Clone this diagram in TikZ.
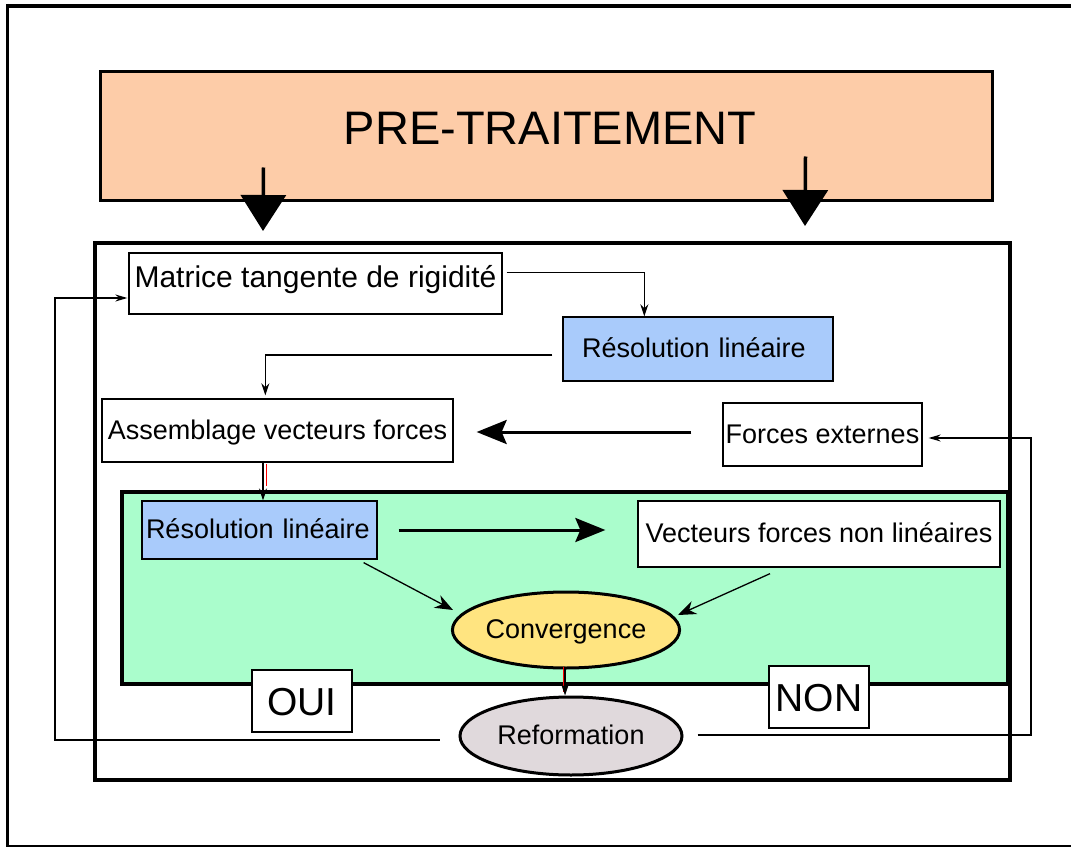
\documentclass[tikz,border=0pt]{standalone}
\usepackage{fontspec}
\setmainfont{Liberation Sans}
\usetikzlibrary{arrows.meta,calc,shapes.geometric}
\definecolor{peach}{RGB}{253,204,168}
\definecolor{lblue}{RGB}{169,203,251}
\definecolor{mint}{RGB}{170,253,204}
\definecolor{cyellow}{RGB}{255,228,128}
\definecolor{rgrey}{RGB}{224,217,220}
\begin{document}
\begin{tikzpicture}[x=1pt,y=-1pt,
  box/.style={draw, line width=1.3pt, inner sep=0pt, fill=white,
    font=\fontsize{27}{30}\selectfont, text height=20pt, text depth=3pt},
  frame/.style={draw, inner sep=0pt},
  ell/.style={ellipse, draw, line width=3pt, inner sep=0pt,
    font=\fontsize{27}{30}\selectfont, text height=20pt, text depth=3pt},
  bigword/.style={box, font=\fontsize{39}{42}\selectfont, text height=28pt, text depth=0pt},
  thinarrow/.style={line width=1.4pt, -{Stealth[length=12pt,width=8pt]}},
  diagarrow/.style={line width=1.3pt, -{Stealth[length=18pt,width=14pt]}},
  bigarrow/.style={line width=3pt, -{Stealth[length=30pt,width=24pt,inset=5pt]}},
  toparrow/.style={line width=3.5pt, -{Triangle[length=36pt,width=45pt]}},
  loopline/.style={line width=1.3pt},
  redline/.style={red, line width=1pt}
]
\useasboundingbox (0,0) rectangle (1071,848);
% outer frame
\draw[line width=4pt] (7,6) -- (1075,6);
\draw[line width=3pt] (7,4) -- (7,847);
\draw[line width=2pt] (6,846) -- (1075,846);

% pre-treatment
\node[frame, fill=peach, line width=3pt, minimum width=892pt, minimum height=128pt] (pre) at (546,136) {};
\node[inner sep=0pt, anchor=base, font=\fontsize{47}{50}\selectfont] (pretxt) at (550,145) {PRE-TRAITEMENT};

% main frame
\node[frame, line width=4pt, minimum width=915pt, minimum height=537pt] (mainbox) at (552.5,511.5) {};

% green zone
\node[frame, fill=mint, line width=3.5pt, minimum width=886pt, minimum height=192pt] (green) at (565,588) {};

% boxes
\node[box, minimum width=373pt, minimum height=61pt, font=\fontsize{30}{32}\selectfont, text height=20pt, text depth=13pt] (mat) at (315.5,283.5) {Matrice tangente de rigidité};
\node[box, fill=lblue, minimum width=270pt, minimum height=64pt, text width=232pt, align=left] (res1) at (698,349) {Résolution linéaire};
\node[box, minimum width=351pt, minimum height=63pt] (asm) at (277.5,430.5) {Assemblage vecteurs forces};
\node[box, minimum width=199pt, minimum height=63pt] (fext) at (822.5,434.5) {Forces externes};
\node[box, fill=lblue, minimum width=235pt, minimum height=58pt, text width=227pt, align=left] (res2) at (259.5,530) {Résolution linéaire};
\node[box, minimum width=362pt, minimum height=66pt] (vec) at (819,534) {Vecteurs forces non linéaires};
\node[ell, fill=cyellow, minimum width=220pt, minimum height=76pt] (conv) at (566,630) {Convergence};
\node[ell, fill=rgrey, minimum width=222pt, minimum height=78pt] (reform) at (571,736) {Reformation};
\node[bigword, minimum width=100pt, minimum height=62pt] (oui) at (302,701) {OUI};
\node[bigword, minimum width=100pt, minimum height=62pt] (non) at (819,697) {NON};

% top arrows
\draw[toparrow] ($(pre.south west)+(165,-34)$) -- ($(mainbox.north west)+(170,-10)$);
\draw[toparrow] ($(pre.south west)+(707,-45)$) -- ($(mainbox.north west)+(712,-15)$);

% connectors
\draw[thinarrow] ($(mat.north east)+(4,20)$) -| ($(res1.north west)+(82,0)$);
\draw[thinarrow] ($(res1.west)+(-10,6)$) -| ($(asm.north west)+(164,-3)$);
\draw[bigarrow] ($(fext.west)+(-31,-2.5)$) -- ($(asm.east)+(23,1.5)$);
\draw[redline] ($(asm.south)+(-11.5,1)$) -- ($(asm.south)+(-11.5,23)$);
\draw[thinarrow] ($(asm.south)+(-14.5,0)$) -- ($(res2.north)+(3.5,0)$);
\draw[bigarrow] ($(res2.east)+(21,0)$) -- ($(vec.west)+(-32,-4)$);
\draw[diagarrow] ($(res2.south east)+(-14,3)$) -- ($(conv.center)+(-113,-20)$);
\draw[diagarrow] ($(vec.south)+(-49,6)$) -- ($(conv.center)+(112,-15)$);
\draw[redline] ($(conv.south)+(-3,-3)$) -- ($(conv.south)+(-3,22)$);
\draw[thinarrow] ($(conv.south)+(-1,-3)$) -- ($(reform.north)+(-6,0)$);

% loops
\coordinate (lc) at (55,740);
\coordinate (rc) at (1031,735);
\draw[loopline, -{Stealth[length=12pt,width=7pt]}] ($(reform.west)+(-19,4)$) -- (lc) |- ($(mat.west)+(-1,14.5)$);
\draw[loopline, -{Stealth[length=12pt,width=7pt]}] ($(reform.east)+(14,-1)$) -- (rc) |- ($(fext.east)+(6,3.5)$);
\end{tikzpicture}
\end{document}
